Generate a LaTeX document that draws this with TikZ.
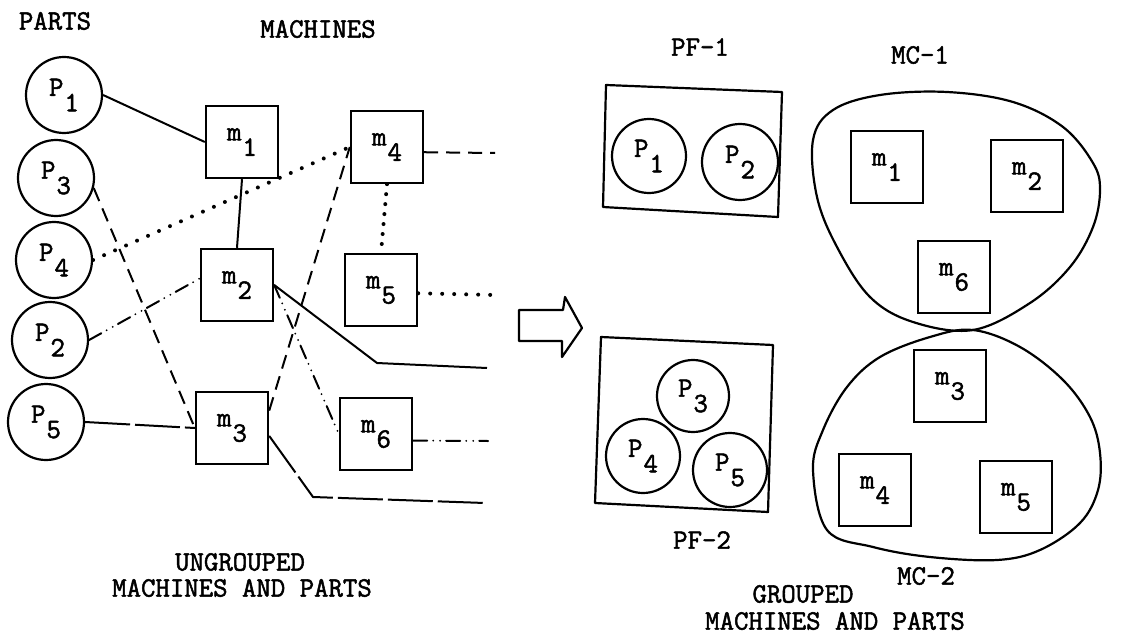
\documentclass[tikz,border=0pt]{standalone}
\usepackage{fontspec}
\newfontfamily\tw{Latin Modern Mono}[FakeBold=1.8]
\newcommand{\twf}{\tw\fontsize{28pt}{32pt}\selectfont}
\newcommand{\ix}[2]{#1\kern1pt\raisebox{-0.55em}{#2}}
\begin{document}
\begin{tikzpicture}[x=1pt,y=-1pt,
  every node/.style={font=\twf},
  part/.style={circle,draw,line width=2.2pt,minimum size=76pt,inner sep=0pt},
  mach/.style={rectangle,draw,line width=2.4pt,minimum size=72pt,inner sep=0pt},
  conn/.style={line width=2pt},
  dsh/.style={conn,dash pattern=on 14pt off 8pt},
  dts/.style={conn,line width=4pt,line cap=round,dash pattern=on 0pt off 12pt},
  ddot/.style={conn,line cap=round,dash pattern=on 14pt off 6pt on 0pt off 7pt on 0pt off 6pt},
  ldsh/.style={conn,dash pattern=on 45pt off 5pt},
  outl/.style={line width=2.2pt,line join=round}]
\useasboundingbox (0,0) rectangle (1123,644);
% ---------- left: ungrouped ----------
\node (tparts) at (55,21) {PARTS};
\node (tmach) at (318,29) {MACHINES};
\node[part] (p1) at (64,95) {\ix{P}{1}};
\node[part] (p3) at (56,178) {\ix{P}{3}};
\node[part] (p4) at (54,260) {\ix{P}{4}};
\node[part] (p2) at (50,340) {\ix{P}{2}};
\node[part] (p5) at (46,422) {\ix{P}{5}};
\node[mach] (m1) at (242,142) {\ix{m}{1}};
\node[mach] (m2) at (237,285) {\ix{m}{2}};
\node[mach] (m3) at (232,428) {\ix{m}{3}};
\node[mach] (m4) at (387,147) {\ix{m}{4}};
\node[mach] (m5) at (381,290) {\ix{m}{5}};
\node[mach] (m6) at (376,434) {\ix{m}{6}};
\coordinate (e4) at (495,153);
\coordinate (e5) at (495,295);
\coordinate (b2) at (377,363);
\coordinate (e2) at (487,368);
\coordinate (e6) at (488,441);
\coordinate (b3) at (313,497);
\coordinate (e3) at (485,503);
\draw[conn] (p1.east) -- (m1.west);
\draw[conn] (m1.south) -- (m2.north);
\draw[dts] (p4.east) -- (m4.west);
\draw[dsh] (p3.-15) -- (m3.west);
\draw[ddot] (p2.east) -- (m2.170);
\draw[ldsh] (p5.east) -- (m3.west);
\draw[dsh] (m3.25) -- (m4.west);
\draw[ddot] (m2.east) -- (m6.west);
\draw[conn] (m2.east) -- (b2) -- (e2);
\draw[ldsh] (m3.-12) -- (b3) -- (e3);
\draw[dsh] (m4.-8) -- (e4);
\draw[dts,dash pattern=on 0pt off 10pt] (m4.south) -- (m5.north);
\draw[dts] (m5.-5) -- (e5);
\draw[ddot] (m6.-10) -- (e6);
\node (tung1) at (240,562) {UNGROUPED};
\node (tung2) at (242,588) {MACHINES AND PARTS};
% ---------- block arrow ----------
\draw[outl] (519,310) -- (563,310) -- (565,297) -- (582,328) -- (562,357) -- (562,341) -- (519,341) -- cycle;
% ---------- right: grouped ----------
\node (tpf1) at (700,47) {PF-1};
\node (tmc1) at (920,55) {MC-1};
\draw[outl] (606,85) -- (782,92) -- (778,217) -- (603,207) -- cycle;
\node[part,minimum size=74pt] (q1) at (649,156) {\ix{P}{1}};
\node[part] (q2) at (740,162) {\ix{P}{2}};
\draw[outl] plot[smooth cycle,tension=0.6] coordinates {
 (813,140) (833,110) (880,95) (947,92) (1013,102) (1063,127) (1093,163) (1100,190)
 (1093,227) (1070,267) (1030,303) (973,330) (913,322) (870,297) (837,247) (817,197)};
\node[mach] (n1) at (887,167) {\ix{m}{1}};
\node[mach] (n2) at (1027,176) {\ix{m}{2}};
\node[mach] (n6) at (954,277) {\ix{m}{6}};
\draw[outl] (601,337) -- (773,345) -- (768,512) -- (595,503) -- cycle;
\node[part,minimum size=72pt] (q3) at (693,396) {\ix{P}{3}};
\node[part,minimum size=74pt] (q4) at (643,456) {\ix{P}{4}};
\node[part,minimum size=74pt] (q5) at (730,470) {\ix{P}{5}};
\draw[outl] plot[smooth cycle,tension=0.6] coordinates {
 (973,330) (1020,347) (1063,380) (1090,417) (1100,453) (1098,490) (1080,523) (1040,550)
 (997,560) (930,557) (873,547) (827,530) (813,470) (823,430) (847,387) (880,357) (930,337)};
\node[mach] (n3) at (950,386) {\ix{m}{3}};
\node[mach] (n4) at (875,490) {\ix{m}{4}};
\node[mach] (n5) at (1016,497) {\ix{m}{5}};
\node (tpf2) at (702,540) {PF-2};
\node (tmc2) at (926,576) {MC-2};
\node (tgr1) at (803,594) {GROUPED};
\node (tgr2) at (835,621) {MACHINES AND PARTS};
\end{tikzpicture}
\end{document}
